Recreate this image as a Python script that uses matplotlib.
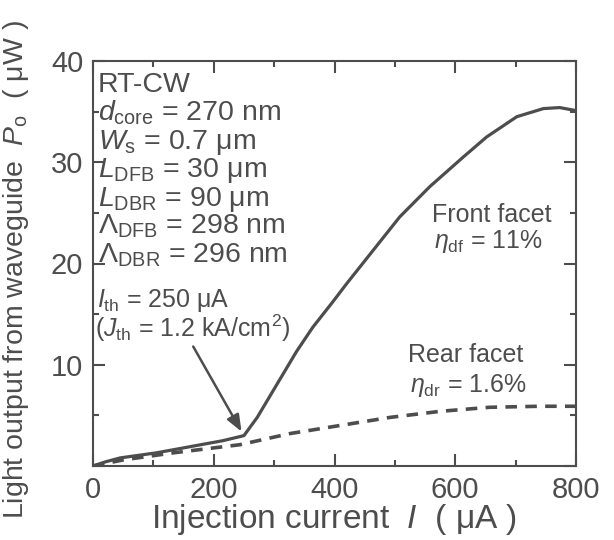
import matplotlib

matplotlib.use("Agg")
import matplotlib.pyplot as plt

# Light output vs injection current
i_front = [0, 20, 45, 105, 160, 215, 250, 272, 304, 337, 364, 397, 420, 460, 508, 558, 613, 652, 702, 746, 773, 800]
p_front = [0, 0.4, 0.8, 1.3, 1.9, 2.5, 3.0, 4.8, 8.0, 11.3, 13.7, 16.2, 18.0, 21.0, 24.6, 27.6, 30.5, 32.5, 34.5, 35.3, 35.4, 35.1]

i_rear = [0, 50, 133, 243, 326, 409, 492, 575, 657, 740, 800]
p_rear = [0, 0.6, 1.3, 2.1, 3.2, 4.0, 4.8, 5.4, 5.8, 5.9, 5.9]

x_ticks = [0, 200, 400, 600, 800]
y_ticks = [0, 10, 20, 30, 40]
y_tick_labels = ["", "10", "20", "30", "40"]

param_lines = [
    "RT-CW",
    r"$\mathit{d}_{\rm core}$ = 270 nm",
    r"$\mathit{W}_{\rm s}$ = 0.7 $\mathrm{\mu}$m",
    r"$\mathit{L}_{\rm DFB}$ = 30 $\mathrm{\mu}$m",
    r"$\mathit{L}_{\rm DBR}$ = 90 $\mathrm{\mu}$m",
    r"$\mathit{Λ}_{\rm DFB}$ = 298 nm",
    r"$\mathit{Λ}_{\rm DBR}$ = 296 nm",
]

ink = "#4d4d4d"

plt.rcParams["font.family"] = ["Liberation Sans", "DejaVu Sans"]
plt.rcParams["mathtext.fontset"] = "custom"
plt.rcParams["mathtext.rm"] = "Liberation Sans"
plt.rcParams["mathtext.it"] = "Liberation Sans:italic"
plt.rcParams["mathtext.bf"] = "Liberation Sans:bold"

fig = plt.figure(figsize=(6.14, 5.40), dpi=100)
ax = fig.add_axes([93 / 614, 74 / 540, 483 / 614, 405 / 540])

ax.plot(i_front, p_front, color=ink, lw=2.3, solid_capstyle="butt")
ax.plot(i_rear, p_rear, color=ink, lw=2.6, dashes=(3.2, 2.3))

ax.set_xlim(0, 800)
ax.set_ylim(0, 40)
ax.set_xticks(x_ticks)
ax.set_yticks(y_ticks)
ax.set_yticklabels(y_tick_labels)
ax.set_xticks(range(100, 800, 200), minor=True)
ax.set_yticks(range(5, 40, 10), minor=True)
ax.tick_params(which="both", direction="in", top=True, right=True, colors=ink, width=1.5)
ax.tick_params(which="major", length=8.5, labelsize=21, pad=7)
ax.tick_params(which="minor", length=4)
for s in ax.spines.values():
    s.set_color(ink)
    s.set_linewidth(1.5)

ax.set_xlabel(r"Injection current  $\mathit{I}$  ( $\mathrm{\mu}$A )", fontsize=24, color=ink, labelpad=-1)
ax.set_ylabel(r"Light output from waveguide  $\mathit{P}_{\rm o}$  ( $\mathrm{\mu}$W )", fontsize=20.5,
              color=ink)
ax.yaxis.set_label_coords(-0.128, 0.485)

# parameter block, top-left
for k, line in enumerate(param_lines):
    fig.text(98 / 614, 1 - (92 + 28.4 * k) / 540, line, fontsize=20.5, color=ink, va="baseline", ha="left")

fig.text(97 / 614, 1 - 307 / 540, r"$\mathit{I}_{\rm th}$ = 250 $\mathrm{\mu}$A", fontsize=18, color=ink,
         va="baseline")
fig.text(95 / 614, 1 - 337 / 540, r"($\mathit{J}_{\rm th}$ = 1.2 kA/cm$^{2}$)", fontsize=18, color=ink,
         va="baseline")

ax.annotate("", xy=(246, 3.4), xytext=(166, 11.8),
            arrowprops=dict(arrowstyle="-|>,head_length=1.0,head_width=0.4", color=ink, lw=1.8,
                            shrinkA=0, shrinkB=0))

fig.text(432 / 614, 1 - 222 / 540, "Front facet", fontsize=18, color=ink, va="baseline")
fig.text(434 / 614, 1 - 248 / 540, r"$\mathit{η}_{\rm df}$ = 11%", fontsize=18, color=ink, va="baseline")
fig.text(408 / 614, 1 - 362 / 540, "Rear facet", fontsize=18, color=ink, va="baseline")
fig.text(410 / 614, 1 - 392 / 540, r"$\mathit{η}_{\rm dr}$ = 1.6%", fontsize=18, color=ink, va="baseline")

fig.savefig("out.png", dpi=100)
